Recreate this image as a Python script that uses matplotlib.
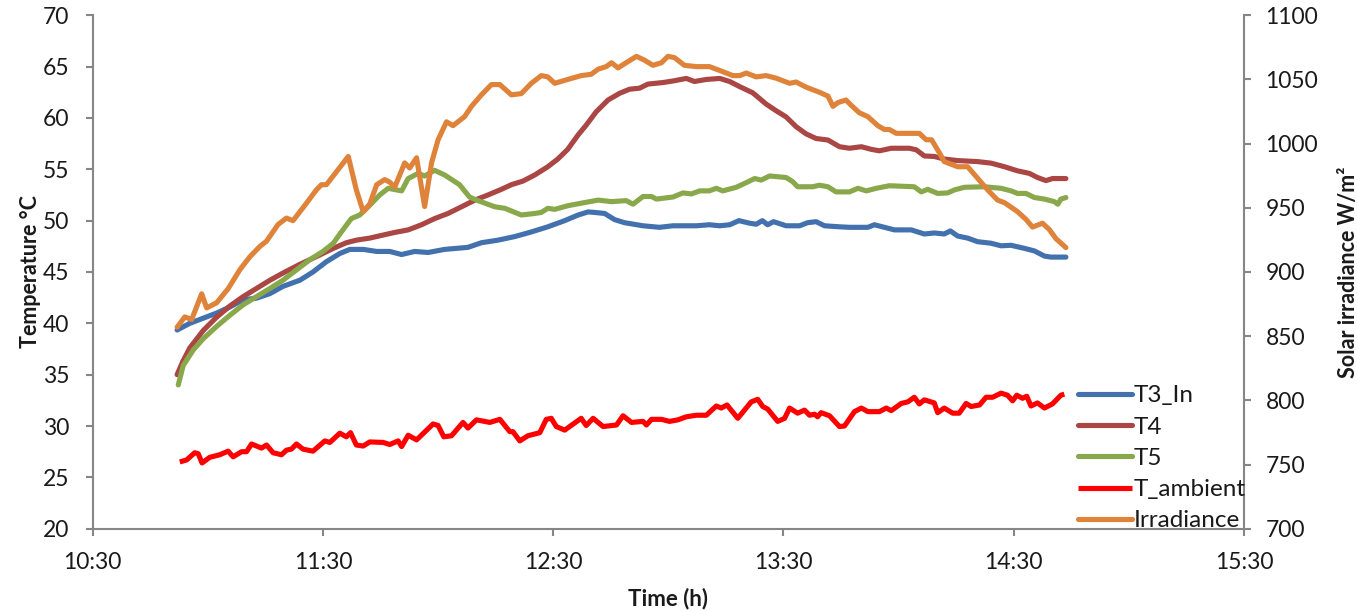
import matplotlib
matplotlib.use("Agg")
import matplotlib.pyplot as plt

plt.rcParams["font.family"] = ["Lato", "DejaVu Sans"]

# Elapsed time in minutes after 10:30 and the measured values
t_t3 = [22.0, 25.3, 28.8, 32.3, 35.8, 39.2, 42.7, 46.2, 49.6, 54.0, 57.4, 60.9, 64.4, 67.0,
        70.5, 74.0, 77.4, 80.5, 83.9, 87.4, 91.7, 97.8, 101.3, 105.6, 110.0, 114.3, 118.6,
        123.0, 126.5, 129.1, 130.8, 133.4, 136.0, 138.6, 143.4, 147.7, 151.2, 157.3, 160.7,
        163.4, 166.0, 168.4, 171.2, 172.9, 174.5, 175.9, 177.4, 180.7, 184.2, 186.3, 188.5,
        190.7, 194.6, 197.2, 202.0, 203.7, 208.9, 213.3, 216.7, 219.3, 221.9, 223.5, 225.4,
        228.0, 230.6, 234.1, 236.7, 239.3, 242.8, 245.4, 248.0, 249.7, 253.6]
t3_in = [39.35, 40.0, 40.5, 41.0, 41.6, 42.3, 42.45, 42.9, 43.6, 44.2, 45.0, 46.0, 46.8, 47.2,
         47.2, 47.0, 47.0, 46.7, 47.0, 46.9, 47.2, 47.4, 47.85, 48.1, 48.45, 48.9, 49.4,
         50.0, 50.55, 50.85, 50.8, 50.7, 50.1, 49.8, 49.5, 49.35, 49.5, 49.5, 49.6,
         49.5, 49.6, 50.0, 49.75, 49.65, 50.0, 49.6, 49.9, 49.5, 49.5, 49.8, 49.9,
         49.5, 49.4, 49.35, 49.35, 49.6, 49.1, 49.1, 48.7, 48.8, 48.7, 49.0, 48.5,
         48.3, 47.95, 47.8, 47.55, 47.6, 47.3, 47.05, 46.55, 46.45, 46.45]

t_t4 = [22.0, 23.5, 25.3, 28.8, 32.3, 35.8, 39.2, 42.7, 46.2, 49.6, 54.0, 58.3, 62.7, 66.1,
        68.7, 72.2, 75.7, 78.7, 82.2, 85.7, 89.1, 92.6, 96.1, 99.6, 103.0, 106.5, 109.1,
        112.1, 115.2, 118.6, 121.2, 123.8, 126.5, 128.6, 131.2, 134.3, 137.3, 139.9, 142.5,
        144.7, 148.6, 151.2, 154.7, 156.8, 159.9, 163.4, 166.0, 168.6, 172.0, 175.5, 178.1,
        180.7, 183.3, 185.9, 188.5, 191.6, 194.6, 197.2, 200.3, 202.8, 205.0, 208.1, 212.8,
        214.6, 216.7, 219.3, 221.9, 225.4, 230.6, 234.1, 237.6, 241.0, 244.1, 246.2, 248.4,
        250.1, 253.6]
t4 = [35.0, 36.3, 37.6, 39.3, 40.6, 41.7, 42.6, 43.4, 44.2, 44.9, 45.75, 46.5, 47.3, 47.85,
      48.1, 48.3, 48.6, 48.85, 49.1, 49.6, 50.2, 50.7, 51.35, 52.0, 52.5, 53.05, 53.5,
      53.85, 54.45, 55.25, 56.0, 56.95, 58.35, 59.3, 60.6, 61.75, 62.4, 62.8, 62.9,
      63.3, 63.45, 63.6, 63.85, 63.55, 63.75, 63.85, 63.55, 63.05, 62.45, 61.35, 60.7,
      60.1, 59.15, 58.45, 58.0, 57.85, 57.2, 57.05, 57.2, 56.95, 56.8, 57.05, 57.05,
      56.9, 56.3, 56.25, 56.0, 55.85, 55.75, 55.6, 55.25, 54.85, 54.6, 54.2, 53.9,
      54.1, 54.1]

t_t5 = [22.3, 23.6, 26.2, 28.8, 32.3, 35.8, 39.2, 42.7, 46.2, 49.6, 53.1, 56.6, 60.0, 62.7,
        64.8, 67.4, 69.6, 72.2, 74.8, 77.0, 80.5, 82.2, 84.8, 86.5, 89.1, 91.7, 95.6, 98.2,
        100.4, 104.8, 107.4, 111.7, 115.2, 116.9, 118.6, 120.4, 123.8, 127.3, 131.7, 135.2,
        139.0, 140.8, 143.4, 145.6, 146.9, 151.2, 153.8, 156.0, 158.2, 160.7, 162.5, 164.2,
        167.7, 170.3, 172.5, 174.2, 176.4, 180.7, 182.4, 183.7, 187.6, 189.4, 191.6, 193.7,
        197.2, 199.4, 201.6, 204.2, 207.6, 214.1, 215.9, 217.6, 220.2, 222.8, 224.6, 227.2,
        232.4, 236.7, 239.3, 241.0, 243.2, 245.4, 248.0, 250.6, 251.5, 252.3, 253.6]
t5 = [34.0, 35.9, 37.4, 38.5, 39.7, 40.8, 41.8, 42.6, 43.4, 44.2, 45.2, 46.2, 47.0, 47.8,
      48.9, 50.2, 50.55, 51.5, 52.5, 53.15, 52.9, 54.1, 54.6, 54.35, 54.9, 54.45, 53.5, 52.3,
      51.95, 51.35, 51.2, 50.55, 50.7, 50.8, 51.2, 51.1, 51.45, 51.7, 52.0, 51.85,
      51.95, 51.6, 52.35, 52.35, 52.1, 52.3, 52.7, 52.6, 52.9, 52.9, 53.15, 52.9,
      53.25, 53.7, 54.1, 53.95, 54.35, 54.2, 53.8, 53.3, 53.3, 53.45, 53.3, 52.8,
      52.8, 53.15, 52.9, 53.15, 53.4, 53.3, 52.8, 53.05, 52.65, 52.7, 53.0, 53.25,
      53.3, 53.15, 52.9, 52.65, 52.65, 52.25, 52.1, 51.85, 51.6, 52.1, 52.25]

t_amb = [22.7, 24.5, 26.6, 27.5, 28.5, 30.5, 33.1, 35.3, 36.6, 38.8, 40.1, 41.4, 44.0, 45.3,
         47.0, 49.2, 50.5, 51.8, 53.1, 54.8, 57.4, 60.5, 61.8, 64.4, 66.1, 67.2, 68.7, 70.5,
         72.2, 75.7, 77.4, 79.6, 80.5, 82.2, 84.4, 88.7, 90.0, 91.5, 93.5, 96.5, 97.8, 100.0,
         103.5, 106.1, 108.7, 109.5, 111.3, 113.4, 116.5, 118.2, 119.5, 120.8, 123.0, 124.3,
         127.3, 128.6, 130.4, 133.0, 136.5, 138.2, 140.4, 143.4, 144.3, 145.6, 148.2, 150.3,
         152.5, 154.7, 157.3, 159.9, 162.5, 163.8, 165.3, 168.1, 171.6, 173.3, 174.6, 175.9,
         178.5, 180.3, 181.6, 183.7, 185.5, 186.8, 188.1, 188.9, 189.8, 192.0, 194.6, 195.9,
         198.5, 200.3, 202.0, 205.0, 206.8, 208.1, 210.7, 212.4, 214.1, 215.4, 216.7, 219.3,
         220.2, 221.9, 224.1, 225.8, 227.6, 228.9, 231.1, 232.8, 234.5, 236.7, 238.4, 239.7,
         240.8, 242.3, 243.4, 244.5, 246.2, 248.0, 250.1, 252.3, 253.2]
t_ambient = [26.5, 26.7, 27.4, 27.3, 26.4, 26.95, 27.2, 27.55, 27.0, 27.5, 27.5, 28.25, 27.85, 28.15,
             27.4, 27.2, 27.65, 27.75, 28.25, 27.75, 27.55, 28.55, 28.4, 29.3, 28.95, 29.35, 28.15, 28.05,
             28.45, 28.4, 28.2, 28.55, 28.0, 29.1, 28.65, 30.2, 30.05, 28.95, 29.05, 30.35, 29.8, 30.6,
             30.35, 30.65, 29.45, 29.45, 28.55, 29.05, 29.35, 30.65, 30.75, 29.95, 29.6, 29.95,
             30.75, 30.05, 30.75, 29.95, 30.1, 31.0, 30.35, 30.45, 30.1, 30.65, 30.65, 30.45,
             30.6, 30.9, 31.05, 31.05, 31.95, 31.75, 32.05, 30.75, 32.35, 32.6, 31.9, 31.65,
             30.45, 30.75, 31.75, 31.25, 31.55, 31.05, 31.15, 30.9, 31.3, 31.0, 29.95, 30.0,
             31.4, 31.75, 31.4, 31.4, 31.75, 31.5, 32.2, 32.35, 32.8, 32.15, 32.55, 32.25,
             31.3, 31.75, 31.25, 31.25, 32.2, 31.9, 32.05, 32.8, 32.8, 33.2, 33.0, 32.45,
             33.0, 32.7, 32.9, 31.95, 32.25, 31.75, 32.15, 33.0, 33.1]

t_irr = [22.0, 24.0, 25.8, 28.4, 29.7, 32.3, 35.3, 38.4, 41.0, 43.6, 45.3, 48.3, 50.5, 52.2,
         55.3, 58.3, 59.6, 60.9, 63.5, 66.6, 68.7, 70.5, 72.2, 74.0, 76.1, 77.4, 78.7, 81.3,
         82.6, 84.4, 86.5, 88.3, 90.0, 92.2, 93.9, 96.9, 98.7, 101.3, 103.9, 106.1, 109.1,
         111.7, 114.3, 116.9, 118.6, 120.4, 123.8, 127.3, 129.9, 131.7, 133.8, 135.2, 136.9,
         139.0, 141.7, 143.8, 146.0, 148.2, 149.9, 151.6, 154.2, 157.3, 160.7, 163.4, 166.8,
         168.6, 170.3, 172.9, 175.5, 178.1, 181.6, 183.3, 185.9, 189.4, 191.6, 192.9, 194.2,
         196.3, 197.6, 199.8, 202.0, 204.6, 206.3, 207.6, 209.4, 214.1, 215.4, 217.2, 218.6,
         220.6, 221.9, 225.4, 228.0, 230.6, 233.2, 235.8, 237.6, 241.0, 243.2, 244.9, 247.5,
         249.3, 251.0, 253.6]
irradiance = [857, 865, 863, 883, 872, 876, 887, 902, 912, 920, 924, 937, 942, 940,
              952, 964, 968, 968, 978, 990, 964, 947, 953, 968, 972, 970, 966, 985,
              981, 989, 951, 985, 1003, 1017, 1014, 1021, 1029, 1038, 1046, 1046, 1038,
              1039, 1047, 1053, 1052, 1047, 1050, 1053, 1054, 1058, 1060, 1063, 1059,
              1063, 1068, 1065, 1061, 1063, 1068, 1067, 1061, 1060, 1060, 1057, 1053,
              1053, 1055, 1052, 1053, 1051, 1047, 1048, 1044, 1040, 1037, 1029, 1032,
              1034, 1030, 1024, 1021, 1014, 1011, 1011, 1008, 1008, 1008, 1003, 1003,
              993, 986, 982, 982, 973, 964, 956, 954, 947, 941, 935, 938,
              933, 926, 919]

tick_minutes = [0, 60, 120, 180, 240, 300]
tick_labels = ["10:30", "11:30", "12:30", "13:30", "14:30", "15:30"]

C_BLUE = "#4271AE"
C_DRED = "#AA4643"
C_GREEN = "#89A84C"
C_RED = "#FF0000"
C_ORANGE = "#DF833B"
SPINE = "#868686"
TXT = "#1a1a1a"
LW = 3.7

fig = plt.figure(figsize=(13.57, 6.11), dpi=100)
ax = fig.add_axes([0.0683, 0.1347, 0.8484, 0.8403])
ax2 = ax.twinx()

l1, = ax.plot(t_t3, t3_in, color=C_BLUE, lw=LW, label="T3_In", solid_capstyle="round")
l2, = ax.plot(t_t4, t4, color=C_DRED, lw=LW, label="T4", solid_capstyle="round")
l3, = ax.plot(t_t5, t5, color=C_GREEN, lw=LW, label="T5", solid_capstyle="round")
l4, = ax.plot(t_amb, t_ambient, color=C_RED, lw=LW, label="T_ambient", solid_capstyle="butt")
l5, = ax2.plot(t_irr, irradiance, color=C_ORANGE, lw=LW, label="Irradiance", solid_capstyle="round")

ax.set_xlim(0, 300)
ax.set_ylim(20, 70)
ax2.set_ylim(700, 1100)
ax.set_xticks(tick_minutes)
ax.set_xticklabels(tick_labels)
ax.set_yticks(range(20, 71, 5))
ax2.set_yticks(range(700, 1101, 50))

for a in (ax, ax2):
    for s in a.spines.values():
        s.set_visible(False)
        s.set_color(SPINE)
        s.set_linewidth(1.5)
    a.tick_params(direction="out", length=5, width=1.5, color=SPINE,
                  labelsize=16.5, labelcolor=TXT)
ax.tick_params(axis="x", pad=12)
ax.tick_params(axis="y", pad=12)
ax2.tick_params(axis="y", pad=10.5)
ax.spines["left"].set_visible(True)
ax.spines["bottom"].set_visible(True)
ax2.spines["right"].set_visible(True)

ax.set_ylabel("Temperature °C", fontsize=15.5, fontweight="bold", color=TXT, labelpad=1)
ax2.set_ylabel("Solar irradiance W/m²", fontsize=15.5, fontweight="bold", color=TXT, labelpad=14)
ax.set_xlabel("Time (h)", fontsize=16, fontweight="bold", color=TXT, labelpad=10)

leg = ax2.legend(handles=[l1, l2, l3, l4, l5], loc="lower left",
                 bbox_to_anchor=(0.856, -0.005), frameon=False, fontsize=17.5,
                 handlelength=2.2, handletextpad=0.1, labelspacing=0.42,
                 borderpad=0, borderaxespad=0)
for txt in leg.get_texts():
    txt.set_color(TXT)

fig.savefig("out.png", dpi=100)
